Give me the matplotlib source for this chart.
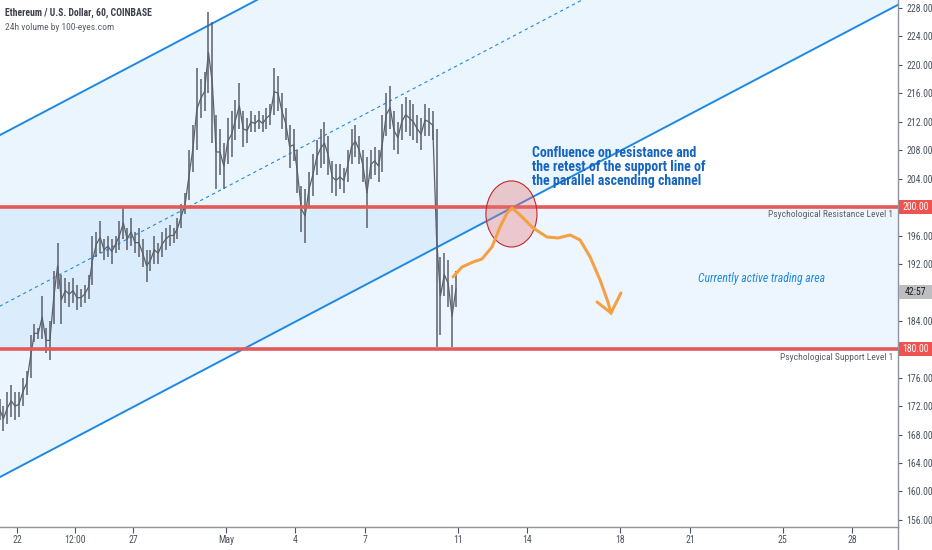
import numpy as np
import pandas as pd
import matplotlib
matplotlib.use('Agg')
import matplotlib.pyplot as plt
from matplotlib import font_manager as fm
from matplotlib.patches import Ellipse, Rectangle
from matplotlib.lines import Line2D
from matplotlib.transforms import blended_transform_factory

_avail = {f.name for f in fm.fontManager.ttflist}
_narrow = next((n for n in ['Roboto Condensed', 'Liberation Sans Narrow', 'Roboto'] if n in _avail), 'DejaVu Sans')
plt.rcParams['font.family'] = [_narrow, 'DejaVu Sans']

# ---------------- data ----------------
bar_start = '2020-04-21 06:00'
bar_freq = '4h'
origin = pd.Timestamp('2020-04-22')

bar_high = [173, 172, 174, 175, 174, 174, 176, 177, 182, 183.5,
            183, 187.5, 183, 184, 191, 195, 190.5, 190, 189.5, 190,
            189, 188.5, 189, 190.5, 196, 196.5, 198, 195.5, 196, 195.5,
            196, 198, 200, 197, 198.5, 196.5, 197, 195.5, 194, 194,
            196, 195, 196.5, 197, 197.5, 197, 198.5, 200.5, 202, 208,
            211.5, 219.5, 218, 219, 227.5, 226, 213, 211, 209, 212.5,
            213.5, 215, 217.5, 213.5, 212.5, 213.5, 213, 213.5, 213, 214,
            214.5, 219.5, 218.5, 216, 214, 211.5, 211, 208, 203, 202.5,
            205, 207.5, 209.5, 211, 212, 210, 206.5, 206, 206, 205.5,
            208, 211, 211.5, 210, 208, 207, 208, 208.5, 208, 213,
            216, 217, 213.5, 212, 214.5, 215.5, 215, 214.5, 213, 212.5,
            214.5, 214, 213.5, 211, 193, 193.5, 192.5, 189, 191]
bar_low = [170, 168.5, 169.5, 170.5, 170, 170.5, 172, 173.5, 176, 181,
           181.5, 181.5, 179.5, 178.5, 183.5, 188.5, 183.5, 186.5, 186, 186.5,
           185.5, 186, 186.5, 187, 189, 193, 193.5, 192.5, 193, 192,
           193.5, 194, 195.5, 194, 194.5, 193.5, 193, 191.5, 189.5, 191,
           192, 192, 193, 194, 194.5, 195, 195.5, 197, 199, 201,
           205, 208, 212.5, 213.5, 216, 209, 202.5, 204.5, 202.5, 206,
           207, 209.5, 211, 208.5, 209, 210.5, 210.5, 211, 210.5, 211,
           211.5, 213, 213.5, 211, 209.5, 205.5, 206.5, 202, 196.5, 195,
           200, 201.5, 204.5, 205.5, 206, 204.5, 202, 201.5, 202.5, 202,
           203.5, 206, 207, 206, 203.5, 197, 204, 204.5, 203.5, 205,
           210, 211, 208, 207.5, 209.5, 210.5, 210, 209.5, 209, 208,
           210, 210, 209.5, 180.3, 182, 187.5, 186, 180.3, 186]

resistance = 200.0
support = 180.0
last_price = 188.0
countdown = '42:57'

channel_days = [-0.75, 38.0]
channel_lower = [162.0, 228.5]
channel_width = 48.1

xtick_days = [0, 2.5, 5, 9, 12, 15, 19, 22, 26, 29, 33, 36]
xtick_labels = ['22', '12:00', '27', 'May', '4', '7', '11', '14', '18', '21', '25', '28']
ytick_values = list(range(156, 229, 4))

path_days = [18.79, 19.18, 19.66, 20.04, 20.47, 20.82, 21.12, 21.34, 21.68,
             22.24, 22.84, 23.32, 23.84, 24.27, 24.70, 25.13, 25.47, 25.60]
path_prices = [190.17, 191.57, 192.28, 192.70, 194.39, 197.20, 199.17, 199.87, 198.89,
               197.06, 195.79, 195.65, 196.07, 195.37, 192.98, 189.74, 186.65, 185.10]
arrow_days = [25.0, 25.60, 26.03]
arrow_prices = [186.65, 185.10, 187.92]

zone_center_day = 21.31
zone_center_price = 199.03
zone_width_days = 2.2
zone_height_price = 9.3

# ---------------- figure ----------------
W, H = 932, 550
fig = plt.figure(figsize=(W / 100, H / 100), dpi=100)
ax_right = 898 / W
ax_bottom = 1 - 527 / H
ax = fig.add_axes([0, ax_bottom, ax_right, 1 - ax_bottom])
ax.set_xlim(-0.733, 37.97)
ax.set_ylim(155.0, 229.125)

blue = '#2196f3'
line_blue = '#1e88e5'

# channel
cd = np.array(channel_days)
cl = np.array(channel_lower)
cu = cl + channel_width
cm = cl + channel_width / 2
ax.fill_between(cd, cl, cu, color=blue, alpha=0.085, lw=0, zorder=0)
ax.axhspan(support, resistance, color=blue, alpha=0.08, lw=0, zorder=0)
ax.plot(cd, cl, color=line_blue, lw=1.4, zorder=2)
ax.plot(cd, cu, color=line_blue, lw=1.4, zorder=2)
ax.plot(cd, cm, color=line_blue, lw=0.8, dashes=(3, 3), zorder=2)

# price bars
times = pd.date_range(bar_start, periods=len(bar_high), freq=bar_freq)
tdays = np.asarray((times - origin) / pd.Timedelta(days=1), dtype=float)
hi = np.array(bar_high)
lo = np.array(bar_low)
candle = '#5b606b'
ax.vlines(tdays, lo, hi, color=candle, lw=1.1, zorder=3)
ax.plot(tdays, (hi + lo) / 2, color=candle, lw=0.9, zorder=3)

# horizontal levels
red = '#e35a5a'
ax.axhline(resistance, color=red, lw=2.6, zorder=4)
ax.axhline(support, color=red, lw=2.6, zorder=4)

# zone ellipse
ax.add_patch(Ellipse((zone_center_day, zone_center_price), zone_width_days, zone_height_price,
                     facecolor='#e57373', alpha=0.35, edgecolor='none', zorder=5))
ax.add_patch(Ellipse((zone_center_day, zone_center_price), zone_width_days, zone_height_price,
                     facecolor='none', edgecolor='#c62828', lw=0.8, zorder=5))

# projected path
orange = '#f5a043'
ax.plot(path_days, path_prices, color=orange, lw=2.2, zorder=6,
        solid_capstyle='round', solid_joinstyle='round')
ax.plot(arrow_days, arrow_prices, color=orange, lw=2.2, zorder=6,
        solid_capstyle='round', solid_joinstyle='miter')

# texts
fig.text(5 / W, 1 - 13 / H, 'Ethereum / U.S. Dollar, 60, COINBASE', ha='left', va='center',
         fontsize=7, color='#3b3f4a', fontweight='bold')
fig.text(5 / W, 1 - 27 / H, '24h volume by 100-eyes.com', ha='left', va='center',
         fontsize=6.8, color='#5d606b')

ax.text(22.2, 205.7, 'Confluence on resistance and\nthe retest of the support line of\nthe parallel ascending channel',
        ha='left', va='center', fontsize=10, fontweight='bold', color='#1565c0',
        linespacing=1.0, zorder=7)
ax.text(32.1, 189.9, 'Currently active trading area', ha='center', va='center',
        fontsize=8.5, style='italic', color='#1e88e5', zorder=7)

bt = blended_transform_factory(ax.transAxes, ax.transData)
ax.text(0.9944, 198.9, 'Psychological Resistance Level 1', transform=bt, ha='right', va='center',
        fontsize=6.8, color='#5d606b', zorder=7)
ax.text(0.9944, 178.9, 'Psychological Support Level 1', transform=bt, ha='right', va='center',
        fontsize=6.8, color='#5d606b', zorder=7)

# axes styling
for s in ['top', 'left']:
    ax.spines[s].set_visible(False)
for s in ['right', 'bottom']:
    ax.spines[s].set_color('#8f939c')
    ax.spines[s].set_linewidth(1.0)
ax.yaxis.tick_right()
ax.set_yticks(ytick_values)
hidden = {resistance, support, last_price}
ax.set_yticklabels(['' if v in hidden else f'{v:.2f}' for v in ytick_values])
ax.tick_params(axis='y', length=3, pad=3, labelsize=7, colors='#4c525e', width=0.8)
ax.set_xticks(xtick_days)
ax.set_xticklabels(xtick_labels)
ax.tick_params(axis='x', length=4, pad=2, labelsize=7, colors='#4c525e', width=0.8)
ax.set_facecolor('white')

# right price labels
box_w = (W - 899) / 898.0
for val, fc, tc, txt in [(resistance, '#ef5350', 'white', f'{resistance:.2f}'),
                         (support, '#ef5350', 'white', f'{support:.2f}'),
                         (last_price, '#bdbec2', '#1e1e1e', countdown)]:
    ax.add_patch(Rectangle((1.0012, val - 1.0), box_w, 2.0, transform=bt, facecolor=fc,
                           edgecolor='none', clip_on=False, zorder=8))
    ax.text(1.0012 + box_w / 2, val, txt, transform=bt, ha='center', va='center',
            fontsize=7, color=tc, clip_on=False, zorder=9)

fig.add_artist(Line2D([ax_right, ax_right], [0, ax_bottom], color='#8f939c', lw=1.0))

fig.savefig('out.png', dpi=100, facecolor='white')
